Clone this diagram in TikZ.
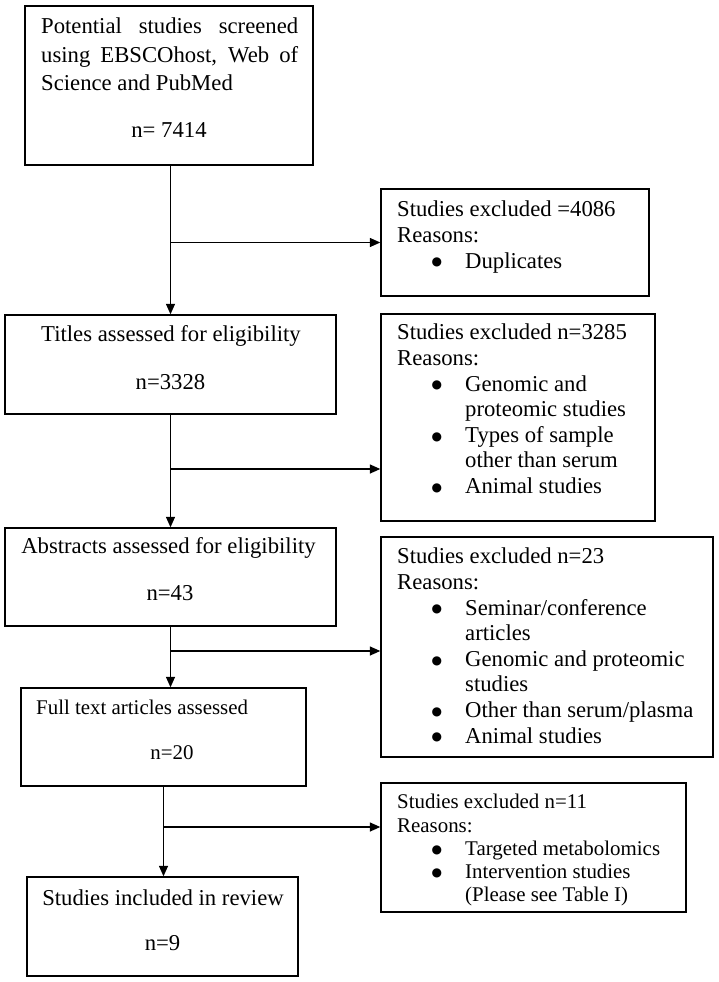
\documentclass[tikz,border=0pt]{standalone}
\usepackage{fontspec}
\setmainfont{Liberation Serif}
\newfontfamily\xsym{DejaVu Sans}
\usetikzlibrary{arrows.meta,calc}
\newcommand{\xbul}{\makebox[68pt][l]{\hspace*{39.7pt}\makebox[0pt][c]{\raisebox{2.3pt}{\xsym\fontsize{12}{12}\selectfont ●}}}}
\newcommand{\xind}{\hspace*{68pt}}
\begin{document}
\begin{tikzpicture}[x=1pt,y=-1pt,
  box/.style={draw=black, line width=1.4pt, inner sep=0pt},
  conn/.style={line width=1.4pt},
  arr/.style={conn, -{Triangle[length=10.5pt,width=9pt]}},
  big/.style={font=\fontsize{22.7}{25.6}\selectfont, inner sep=0pt},
  small/.style={font=\fontsize{20.9}{23.3}\selectfont, inner sep=0pt},
  list/.style={align=left, anchor=north west}
]
\useasboundingbox (0,0) rectangle (718,982);

% main boxes
\node[box, minimum width=288pt, minimum height=159pt] (b1) at (169,85.5) {};
\node[box, minimum width=331pt, minimum height=99pt] (b2) at (170.5,364.5) {};
\node[box, minimum width=331pt, minimum height=98pt] (b3) at (170.5,577) {};
\node[box, minimum width=285pt, minimum height=98pt] (b4) at (163.5,737) {};
\node[box, minimum width=271pt, minimum height=99pt] (b5) at (162.5,926.5) {};

% exclusion boxes
\node[box, minimum width=268pt, minimum height=107pt] (e1) at (515,242.5) {};
\node[box, minimum width=274pt, minimum height=207pt] (e2) at (518,417.5) {};
\node[box, minimum width=332pt, minimum height=220pt] (e3) at (547,647) {};
\node[box, minimum width=305pt, minimum height=129pt] (e4) at (533.5,847.5) {};

% texts of main boxes
\node[inner sep=0pt, font=\fontsize{22.7}{28.5}\selectfont, text width=257pt, align=justify, anchor=north west] (t1) at (41,18)
  {\tolerance=10000 Potential studies screened\linebreak using EBSCOhost, Web of\linebreak Science and PubMed};
\node[big] (n1) at (169,130) {n= 7414};
\node[big] (t2) at (171,336) {Titles assessed for eligibility};
\node[big] (n2) at (170.5,382) {n=3328};
\node[big] (t3) at (168.5,548) {Abstracts assessed for eligibility};
\node[big] (n3) at (170,593) {n=43};
\node[small, anchor=west] (t4) at (36,707) {Full text articles assessed};
\node[small] (n4) at (172,753) {n=20};
\node[big] (t5) at (163,898) {Studies included in review};
\node[big] (n5) at (162.5,943) {n=9};

% texts of exclusion boxes
\node[big, list] (x1) at (397,201) {Studies excluded =4086\\Reasons:\\\xbul Duplicates};
\node[big, list] (x2) at (397,324) {Studies excluded n=3285\\Reasons:\\\xbul Genomic and\\\xind proteomic studies\\\xbul Types of sample\\\xind other than serum\\\xbul Animal studies};
\node[big, list] (x3) at (397,548) {Studies excluded n=23\\Reasons:\\\xbul Seminar/conference\\\xind articles\\\xbul Genomic and proteomic\\\xind studies\\\xbul Other than serum/plasma\\\xbul Animal studies};
\node[small, list] (x4) at (397,794) {Studies excluded n=11\\Reasons:\\\xbul Targeted metabolomics\\\xbul Intervention studies\\\xind (Please see Table I)};

% connectors
\draw[arr] (b1.south -| b2.north) -- (b2.north);
\draw[arr] (b2.north |- e1.west) -- (e1.west);
\draw[arr] (b2.south) -- (b3.north);
\coordinate (j2) at (170.5,469);
\draw[arr] (j2) -- (j2 -| e2.west);
\draw[arr] (b3.south) -- (b3.south |- b4.north);
\coordinate (j3) at (170.5,651);
\draw[arr] (j3) -- (j3 -| e3.west);
\draw[arr] (b4.south) -- (b4.south |- b5.north);
\coordinate (j4) at (163.5,827);
\draw[arr] (j4) -- (j4 -| e4.west);
\end{tikzpicture}
\end{document}
